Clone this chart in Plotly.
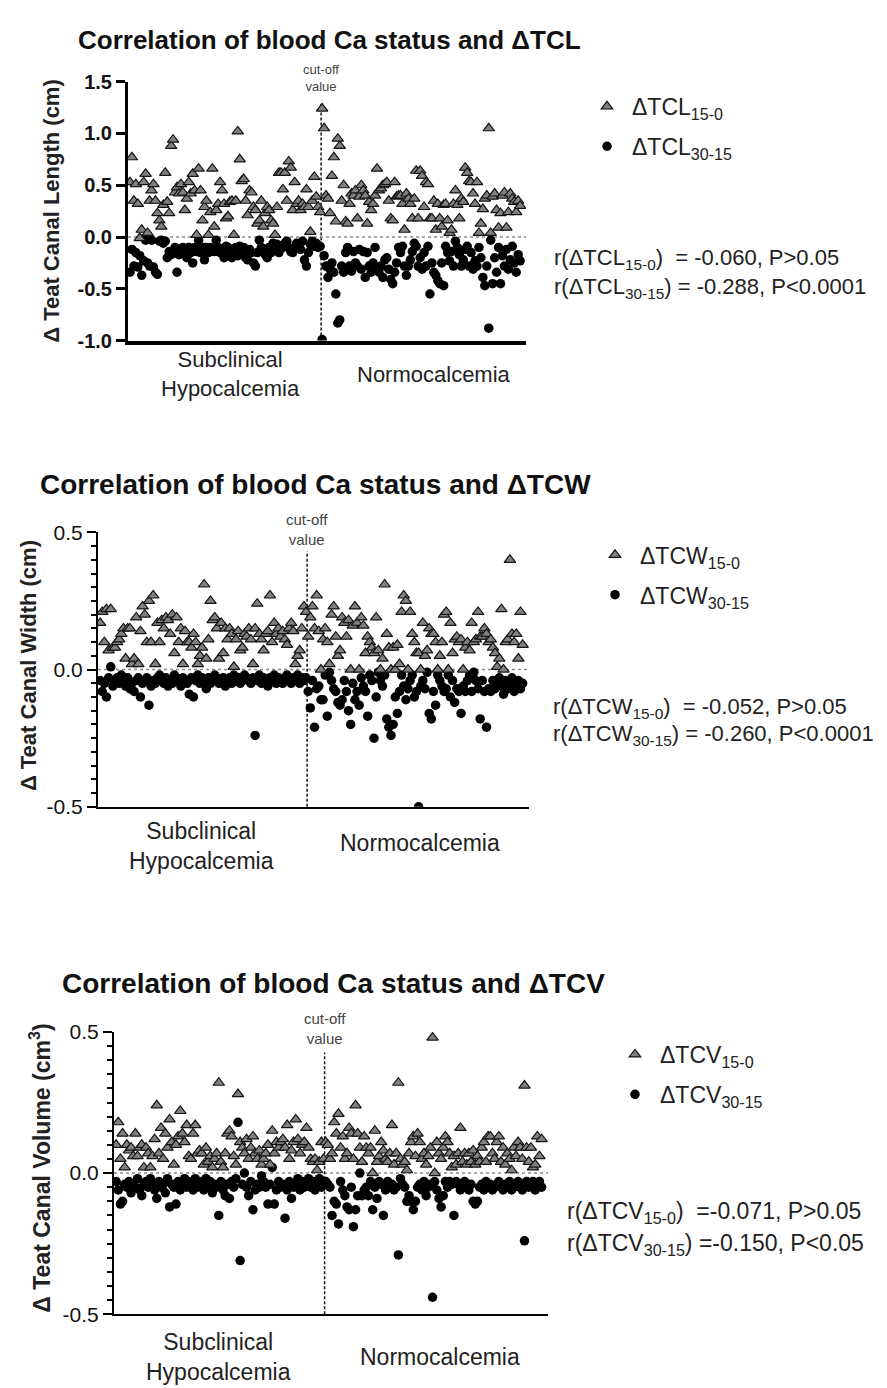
import plotly.graph_objects as go

W, H = 887, 1388
FONT = "Liberation Sans, Arial, sans-serif"

# ---------------- data (cows ranked by blood Ca; left = subclinical hypocalcemia) ----------------
N_SUB = 98
CUTOFF_RANK = N_SUB + 0.5

# Delta teat canal length (cm)
TCL_15_0_SUB = [0.53,0.77,0.35,0.51,0.32,-0.01,0.07,0.53,0.61,0.04,
0.35,0.45,0.51,0.35,0.23,0.16,0.10,0.31,0.62,0.34,
0.23,0.88,0.94,0.43,0.48,0.42,0.51,0.43,0.26,0.37,
0.53,0.42,0.61,0.45,0.02,0.66,0.45,0.16,0.29,0.35,
0.02,0.24,0.66,0.10,0.26,0.32,0.53,0.45,0.32,0.18,
0.20,0.34,0.35,0.02,0.35,1.02,0.75,0.54,0.56,0.35,
0.21,0.45,0.43,0.29,0.26,0.13,0.16,0.35,0.10,0.23,
0.29,0.26,0.16,0.13,0.02,0.29,0.62,0.62,0.46,0.62,
0.35,0.73,0.67,0.26,0.53,0.32,0.35,0.26,0.32,0.29,
0.46,0.29,0.05,0.35,0.58,0.39,0.29,0.24]
TCL_15_0_NORM = [1.24,1.05,0.40,0.37,0.23,0.59,0.77,0.15,0.95,0.88,
0.35,0.50,0.15,0.13,0.32,0.42,0.40,0.45,0.18,0.39,
0.50,0.45,0.40,0.13,0.34,0.26,0.32,0.40,0.66,0.45,
0.47,0.50,0.51,0.53,0.35,0.18,0.16,0.53,0.39,0.40,
0.40,0.32,0.07,0.42,0.37,0.32,0.18,0.37,0.64,0.18,
0.64,0.59,0.29,0.53,0.51,0.18,0.18,0.35,0.07,0.32,
0.18,0.10,0.31,0.32,0.16,0.04,0.07,0.32,0.45,0.31,
0.18,0.37,0.34,0.67,0.62,0.54,0.53,0.42,0.32,0.53,
0.04,0.13,0.27,0.37,0.40,1.05,0.04,0.39,0.42,0.26,
0.09,0.23,0.40,0.43,0.09,0.24,0.42,0.37,0.34,0.24,
0.35,0.30]
TCL_30_15_SUB = [-0.34,-0.12,-0.28,-0.15,-0.29,-0.18,-0.37,-0.23,-0.03,-0.25,
-0.28,-0.03,-0.29,-0.34,-0.36,-0.04,-0.03,-0.06,-0.04,-0.20,
-0.14,-0.17,-0.15,-0.10,-0.34,-0.17,-0.12,-0.10,-0.15,-0.20,
-0.10,-0.15,-0.25,-0.10,-0.14,-0.03,-0.15,-0.10,-0.22,-0.10,
-0.15,-0.10,-0.12,-0.14,-0.03,-0.10,-0.15,-0.12,-0.20,-0.09,
-0.10,-0.15,-0.20,-0.12,-0.10,-0.18,-0.09,-0.15,-0.10,-0.20,
-0.22,-0.12,-0.15,-0.25,-0.28,-0.15,-0.03,-0.10,-0.14,-0.17,
-0.20,-0.10,-0.15,-0.06,-0.12,-0.07,-0.15,-0.09,-0.10,-0.06,
-0.04,-0.10,-0.14,-0.15,-0.10,-0.06,-0.09,-0.12,-0.04,-0.22,
-0.28,-0.15,-0.07,-0.04,-0.09,-0.06,-0.10,-0.09]
TCL_30_15_NORM = [-0.99,-0.18,-0.28,-0.39,-0.31,-0.25,-0.34,-0.55,-0.83,-0.80,
-0.28,-0.34,-0.15,-0.10,-0.28,-0.33,-0.14,-0.25,-0.28,-0.12,
-0.31,-0.14,-0.39,-0.15,-0.28,-0.34,-0.25,-0.10,-0.31,-0.34,
-0.28,-0.39,-0.22,-0.20,-0.31,-0.41,-0.45,-0.34,-0.25,-0.10,
-0.15,-0.09,-0.28,-0.37,-0.28,-0.22,-0.14,-0.06,-0.09,-0.28,
-0.20,-0.31,-0.15,-0.28,-0.09,-0.55,-0.25,-0.34,-0.37,-0.42,
-0.45,-0.25,-0.47,-0.09,-0.15,-0.23,-0.14,-0.28,-0.04,-0.10,
-0.17,-0.28,-0.22,-0.12,-0.09,-0.28,-0.15,-0.31,-0.23,-0.28,
-0.10,-0.20,-0.39,-0.47,-0.28,-0.88,-0.03,-0.45,-0.20,-0.34,
-0.10,-0.45,-0.18,-0.28,-0.12,-0.31,-0.22,-0.09,-0.25,-0.34,
-0.17,-0.23]

# Delta teat canal width (cm)
TCW_15_0_SUB = [0.17,0.21,0.10,0.22,0.07,0.22,0.08,0.08,0.10,0.11,
0.13,0.15,0.04,0.15,0.15,0.02,0.04,0.19,0.02,0.14,
0.23,0.20,0.10,0.25,0.10,0.27,0.02,0.17,0.10,0.18,
0.15,0.19,0.18,0.13,0.20,0.06,0.19,0.10,0.15,0.02,
0.14,0.10,0.10,0.08,0.13,0.10,0.02,0.05,0.08,0.31,
0.04,0.11,0.25,0.18,0.19,0.15,0.04,0.17,0.06,0.15,
0.11,0.15,0.13,0.01,0.11,0.14,0.07,0.08,0.13,0.12,
0.15,0.11,0.02,0.15,0.24,0.13,0.11,0.07,0.13,0.14,
0.27,0.10,0.17,0.13,0.15,0.12,0.14,0.11,0.09,0.15,
0.17,0.14,0.02,0.05,0.07,0.15,0.23,0.21]
TCW_15_0_NORM = [0.12,0.19,0.23,0.15,0.27,0.14,0.00,0.11,0.15,0.10,
0.02,0.20,0.23,0.12,0.05,0.07,0.19,0.17,0.12,0.18,
0.00,0.16,0.23,0.17,0.00,0.19,0.16,0.06,0.12,0.10,
0.08,0.06,0.19,0.07,0.00,0.04,0.31,0.13,0.08,0.00,
0.08,0.00,0.09,0.02,0.21,0.27,0.25,0.00,0.21,0.13,
0.10,0.06,0.06,0.00,0.17,0.05,0.07,0.15,0.13,0.13,
0.10,0.00,0.05,0.10,0.20,0.21,0.00,0.17,0.06,0.11,
0.12,0.10,0.11,0.00,0.08,0.10,0.07,0.17,0.10,0.11,
0.21,0.12,0.12,0.15,0.13,0.10,0.11,0.08,0.06,0.01,
0.04,0.22,0.00,0.10,0.11,0.40,0.13,0.10,0.13,0.04,
0.21,0.09]
TCW_30_15_SUB = [-0.04,-0.08,-0.05,-0.10,-0.03,0.01,-0.06,-0.04,-0.03,-0.05,
-0.02,-0.04,-0.06,-0.03,-0.07,-0.05,-0.08,-0.04,-0.03,-0.10,
-0.05,-0.04,-0.03,-0.13,-0.06,-0.04,-0.05,-0.03,-0.02,-0.04,
-0.05,-0.03,-0.06,-0.04,-0.05,-0.02,-0.03,-0.04,-0.06,-0.03,
-0.04,-0.05,-0.09,-0.03,-0.10,-0.04,-0.02,-0.05,-0.03,-0.04,
-0.07,-0.03,-0.05,-0.04,-0.02,-0.03,-0.05,-0.04,-0.03,-0.06,
-0.04,-0.03,-0.05,-0.02,-0.04,-0.03,-0.05,-0.04,-0.02,-0.03,
-0.04,-0.05,-0.03,-0.24,-0.04,-0.02,-0.05,-0.03,-0.04,-0.06,
-0.03,-0.04,-0.02,-0.05,-0.03,-0.04,-0.05,-0.03,-0.02,-0.04,
-0.05,-0.03,-0.04,-0.02,-0.05,-0.03,-0.04,-0.03]
TCW_30_15_NORM = [-0.08,-0.14,-0.04,-0.21,-0.07,-0.06,-0.11,-0.11,-0.02,-0.17,
-0.01,-0.04,-0.07,-0.08,-0.12,-0.13,-0.11,-0.04,-0.08,-0.15,
-0.20,-0.05,-0.11,-0.08,-0.13,-0.03,-0.06,-0.08,-0.17,-0.02,
-0.04,-0.25,-0.10,-0.01,-0.04,-0.06,-0.02,-0.18,-0.21,-0.24,
-0.20,-0.10,-0.16,-0.08,-0.02,-0.06,-0.11,-0.07,-0.04,-0.02,
-0.10,-0.08,-0.50,-0.06,-0.04,-0.07,-0.01,-0.16,-0.18,-0.08,
-0.13,-0.02,-0.04,-0.06,-0.08,-0.07,-0.02,-0.10,-0.04,-0.12,
-0.07,-0.08,-0.16,-0.06,-0.08,-0.04,-0.02,-0.08,-0.01,-0.04,
-0.07,-0.18,-0.04,-0.08,-0.21,-0.07,-0.08,-0.04,-0.07,-0.05,
-0.03,-0.06,-0.09,-0.04,-0.07,-0.05,-0.03,-0.08,-0.06,-0.04,
-0.07,-0.05]

# Delta teat canal volume (cm3)
TCV_15_0_SUB = [0.10,0.18,0.05,0.14,0.02,0.10,0.08,0.09,0.06,0.14,
0.06,0.09,0.10,0.02,0.09,0.07,0.02,0.06,0.12,0.24,
0.07,0.16,0.05,0.14,0.09,0.19,0.11,0.03,0.10,0.13,
0.22,0.14,0.11,0.17,0.06,0.05,0.14,0.17,0.07,0.08,
0.07,0.03,0.09,0.04,0.06,0.02,0.05,0.07,0.32,0.04,
0.02,0.07,0.14,0.15,0.13,0.06,0.03,0.28,0.11,0.09,
0.07,0.12,0.05,0.09,0.13,0.07,0.05,0.08,0.03,0.05,
0.07,0.10,0.03,0.15,0.07,0.11,0.09,0.11,0.12,0.09,
0.17,0.05,0.08,0.11,0.19,0.12,0.07,0.10,0.11,0.16,
0.09,0.05,0.04,0.05,0.01,0.04,0.11,0.05]
TCV_15_0_NORM = [0.11,0.10,0.05,0.07,0.18,0.14,0.21,0.09,0.13,0.05,
0.07,0.16,0.14,0.05,0.24,0.14,0.09,0.04,0.13,0.09,
0.07,0.09,0.00,0.15,0.04,0.06,0.11,0.08,0.05,0.04,
0.07,0.17,0.03,0.07,0.32,0.05,0.03,0.04,0.01,0.07,
0.11,0.13,0.06,0.14,0.11,0.05,0.07,0.03,0.06,0.09,
0.48,0.00,0.11,0.07,0.05,0.09,0.13,0.11,0.07,0.02,
0.06,0.03,0.07,0.16,0.04,0.07,0.03,0.07,0.04,0.08,
0.03,0.06,0.04,0.09,0.11,0.04,0.13,0.13,0.07,0.05,
0.11,0.13,0.04,0.09,0.03,0.07,0.05,0.01,0.09,0.06,
0.11,0.09,0.05,0.31,0.09,0.04,0.09,0.02,0.03,0.13,
0.06,0.12]
TCV_30_15_SUB = [-0.03,-0.06,-0.11,-0.10,-0.04,-0.05,-0.03,-0.07,-0.04,-0.05,
-0.02,-0.06,-0.08,-0.04,-0.03,-0.05,-0.02,-0.04,-0.06,-0.09,
-0.03,-0.05,-0.04,-0.07,-0.02,-0.12,-0.04,-0.05,-0.11,-0.03,
-0.06,-0.04,-0.02,-0.05,-0.03,-0.04,-0.06,-0.02,-0.05,-0.03,
-0.04,-0.06,-0.02,-0.05,-0.03,-0.07,-0.04,-0.05,-0.15,-0.03,
-0.06,-0.08,-0.04,-0.09,-0.03,-0.05,-0.02,0.18,-0.31,-0.04,
0.00,-0.05,-0.08,-0.03,-0.13,-0.06,-0.04,-0.05,-0.01,-0.03,
-0.05,-0.11,-0.04,0.02,-0.11,-0.06,-0.03,-0.05,-0.04,-0.16,
-0.06,-0.03,-0.09,-0.05,-0.04,-0.02,-0.06,-0.03,-0.05,-0.04,
-0.02,-0.05,-0.03,-0.06,-0.04,-0.02,-0.05,-0.03]
TCV_30_15_NORM = [-0.03,-0.04,-0.05,-0.15,-0.10,-0.11,-0.18,-0.03,-0.06,-0.08,
-0.12,-0.13,-0.05,-0.19,-0.13,-0.08,0.00,-0.08,-0.06,-0.05,
-0.08,-0.03,-0.13,-0.05,-0.09,-0.03,-0.04,-0.15,-0.06,-0.03,
-0.05,-0.04,-0.06,-0.05,-0.29,-0.02,-0.04,-0.05,-0.10,-0.08,
-0.10,-0.13,-0.10,-0.05,-0.04,-0.06,-0.03,-0.08,-0.05,-0.04,
-0.44,-0.03,-0.06,-0.09,-0.12,-0.08,-0.03,-0.05,-0.03,-0.04,
-0.15,-0.03,-0.04,-0.06,-0.04,-0.03,-0.05,-0.06,-0.04,-0.10,
-0.11,-0.10,-0.05,-0.04,-0.06,-0.03,-0.05,-0.04,-0.06,-0.05,
-0.04,-0.03,-0.05,-0.06,-0.04,-0.05,-0.03,-0.06,-0.05,-0.04,
-0.03,-0.05,-0.06,-0.24,-0.03,-0.05,-0.04,-0.03,-0.06,-0.05,
-0.03,-0.05]

TITLES = ["Correlation of blood Ca status and \u0394TCL",
          "Correlation of blood Ca status and \u0394TCW",
          "Correlation of blood Ca status and \u0394TCV"]
Y_TITLES = ["\u0394 Teat Canal Length (cm)", "\u0394 Teat Canal Width (cm)",
            "\u0394 Teat Canal Volume (cm<sup>3</sup>)"]
SERIES_NAMES = [("\u0394TCL<sub>15-0</sub>", "\u0394TCL<sub>30-15</sub>"),
                ("\u0394TCW<sub>15-0</sub>", "\u0394TCW<sub>30-15</sub>"),
                ("\u0394TCV<sub>15-0</sub>", "\u0394TCV<sub>30-15</sub>")]
R_TEXT = [("r(\u0394TCL<sub>15-0</sub>)&nbsp; = -0.060, P&gt;0.05",
           "r(\u0394TCL<sub>30-15</sub>) = -0.288, P&lt;0.0001"),
          ("r(\u0394TCW<sub>15-0</sub>)&nbsp; = -0.052, P&gt;0.05",
           "r(\u0394TCW<sub>30-15</sub>) = -0.260, P&lt;0.0001"),
          ("r(\u0394TCV<sub>15-0</sub>)&nbsp; =-0.071, P&gt;0.05",
           "r(\u0394TCV<sub>30-15</sub>) =-0.150, P&lt;0.05")]
GROUP_LABELS = ["Subclinical<br>Hypocalcemia", "Normocalcemia"]
Y_RANGES = [[-1.0, 1.5], [-0.5, 0.5], [-0.5, 0.5]]
Y_TICKS = [[-1.0, -0.5, 0.0, 0.5, 1.0, 1.5], [-0.5, 0.0, 0.5], [-0.5, 0.0, 0.5]]
Y_TICKTEXT = [["-1.0", "-0.5", "0.0", "0.5", "1.0", "1.5"], ["-0.5", "0.0", "0.5"], ["-0.5", "0.0", "0.5"]]

DATA = [(TCL_15_0_SUB, TCL_15_0_NORM, TCL_30_15_SUB, TCL_30_15_NORM),
        (TCW_15_0_SUB, TCW_15_0_NORM, TCW_30_15_SUB, TCW_30_15_NORM),
        (TCV_15_0_SUB, TCV_15_0_NORM, TCV_30_15_SUB, TCV_30_15_NORM)]

# ---------------- layout geometry (pixels) ----------------
PANELS = [
    dict(x0=120, x1=518, y0=62.7, y1=326, lw=3, minor=False, tickbold=True,
         title_x=68, title_y=20, title_size=26,
         ylab_x=44, ylab_y=194, ylab_size=22,
         leg_x=574, leg_y=66, r_x=544, r_y=(243, 273), r_size=22,
         cut_y=59, cut_size=13, cut_top=0.915, grp_size=22,
         grp_y=(360, 360), grp_x=(222, 426)),
    dict(x0=90, x1=521, y0=521, y1=800, lw=2, minor=True, tickbold=False,
         title_x=30, title_y=472, title_size=28,
         ylab_x=20, ylab_y=657, ylab_size=22,
         leg_x=582, leg_y=522, r_x=543, r_y=(700, 727), r_size=22,
         cut_y=518, cut_size=15, cut_top=0.93, grp_size=23,
         grp_y=(840, 837), grp_x=(193, 412)),
    dict(x0=106, x1=540, y0=1029, y1=1316, lw=2, minor=True, tickbold=False,
         title_x=52, title_y=980, title_size=28,
         ylab_x=32, ylab_y=1168, ylab_size=23,
         leg_x=602, leg_y=1030, r_x=557, r_y=(1213, 1245), r_size=23,
         cut_y=1025, cut_size=15, cut_top=0.927, grp_size=23,
         grp_y=(1360, 1360), grp_x=(210, 432)),
]
X_RANGE = [0, 203]


def px(x):
    return x / W


def py(y):
    return 1 - y / H


fig = go.Figure()
annotations = []
shapes = []

for k, (p, dat) in enumerate(zip(PANELS, DATA)):
    sfx = "" if k == 0 else str(k + 1)
    xa, ya = "x" + sfx, "y" + sfx
    t_sub, t_norm, c_sub, c_norm = dat
    xs_t = [i + 1 for i in range(len(t_sub))] + [N_SUB + 1 + i for i in range(len(t_norm))]
    xs_c = [i + 1 for i in range(len(c_sub))] + [N_SUB + 1 + i for i in range(len(c_norm))]
    leg = "legend" if k == 0 else "legend" + str(k + 1)
    fig.add_trace(go.Scatter(
        x=xs_c, y=c_sub + c_norm, mode="markers", name=SERIES_NAMES[k][1],
        xaxis=xa, yaxis=ya, legend=leg, legendgroup="c%d" % k, legendrank=2,
        marker=dict(symbol="circle", size=9.5, color="#000000",
                    line=dict(width=0))))
    fig.add_trace(go.Scatter(
        x=xs_t, y=t_sub + t_norm, mode="markers", name=SERIES_NAMES[k][0],
        xaxis=xa, yaxis=ya, legend=leg, legendgroup="t%d" % k, legendrank=1,
        marker=dict(symbol="triangle-up", size=10, color="#808080",
                    line=dict(width=1.2, color="#141414"))))

    tickfont = dict(family=FONT, size=21 if not p["tickbold"] else 20, color="#111")
    ticktext = Y_TICKTEXT[k]
    if p["tickbold"]:
        ticktext = ["<b>%s</b>" % t for t in ticktext]
    yax = dict(domain=[py(p["y1"]), py(p["y0"])], range=Y_RANGES[k], anchor=xa,
               tickmode="array", tickvals=Y_TICKS[k], ticktext=ticktext,
               ticks="outside", ticklen=9, tickwidth=p["lw"], tickcolor="black",
               showline=True, linewidth=p["lw"], linecolor="black",
               showgrid=False, zeroline=False, tickfont=tickfont, fixedrange=True)
    if p["minor"]:
        yax["minor"] = dict(ticks="outside", dtick=0.05, ticklen=5,
                            tickwidth=1.5, tickcolor="black", showgrid=False)
    xax = dict(domain=[px(p["x0"]), px(p["x1"])], range=X_RANGE, anchor=ya,
               showticklabels=False, ticks="", showline=True,
               linewidth=p["lw"] + (0.5 if k == 0 else 0), linecolor="black",
               showgrid=False, zeroline=False, fixedrange=True)
    fig.update_layout(**{"xaxis" + sfx: xax, "yaxis" + sfx: yax})

    # zero reference line (dotted)
    shapes.append(dict(type="line", xref=xa + " domain", yref=ya, x0=0, x1=1,
                       y0=0, y1=0, line=dict(color="#8a8a8a", width=1.5, dash="dot"),
                       layer="below"))
    # cut-off line
    shapes.append(dict(type="line", xref=xa, yref=ya + " domain",
                       x0=CUTOFF_RANK, x1=CUTOFF_RANK, y0=0, y1=p["cut_top"],
                       line=dict(color="#111", width=1.5, dash="3px,2px"),
                       layer="below"))
    annotations.append(dict(text="cut-off<br>value", xref=xa, yref="paper",
                            x=CUTOFF_RANK, y=py(p["cut_y"]), showarrow=False,
                            xanchor="center", yanchor="middle",
                            font=dict(family=FONT, size=p["cut_size"], color="#444")))
    # title
    annotations.append(dict(text="<b>%s</b>" % TITLES[k], xref="paper", yref="paper",
                            x=px(p["title_x"]), y=py(p["title_y"]), showarrow=False,
                            xanchor="left", yanchor="middle",
                            font=dict(family=FONT, size=p["title_size"], color="#111")))
    # y-axis title
    annotations.append(dict(text="<b>%s</b>" % Y_TITLES[k], xref="paper", yref="paper",
                            x=px(p["ylab_x"]), y=py(p["ylab_y"]), showarrow=False,
                            textangle=-90, xanchor="center", yanchor="middle",
                            font=dict(family=FONT, size=p["ylab_size"], color="#222")))
    # group labels
    for g in range(2):
        annotations.append(dict(text=GROUP_LABELS[g], xref="paper", yref="paper",
                                x=px(p["grp_x"][g]), y=py(p["grp_y"][g]), showarrow=False,
                                xanchor="center", yanchor="middle", align="center",
                                font=dict(family=FONT, size=p["grp_size"], color="#222")))
    # correlation text
    for j in range(2):
        annotations.append(dict(text=R_TEXT[k][j], xref="paper", yref="paper",
                                x=px(p["r_x"]), y=py(p["r_y"][j]), showarrow=False,
                                xanchor="left", yanchor="middle",
                                font=dict(family=FONT, size=p["r_size"], color="#222")))
    fig.update_layout(**{leg: dict(x=px(p["leg_x"]), y=py(p["leg_y"]),
                                   xanchor="left", yanchor="top",
                                   bgcolor="rgba(0,0,0,0)", borderwidth=0,
                                   tracegroupgap=7, itemwidth=40,
                                   font=dict(family=FONT, size=23, color="#222"))})

fig.update_layout(width=W, height=H, margin=dict(l=0, r=0, t=0, b=0),
                  paper_bgcolor="white", plot_bgcolor="white",
                  showlegend=True, annotations=annotations, shapes=shapes,
                  font=dict(family=FONT))

fig.write_html("out.html")
